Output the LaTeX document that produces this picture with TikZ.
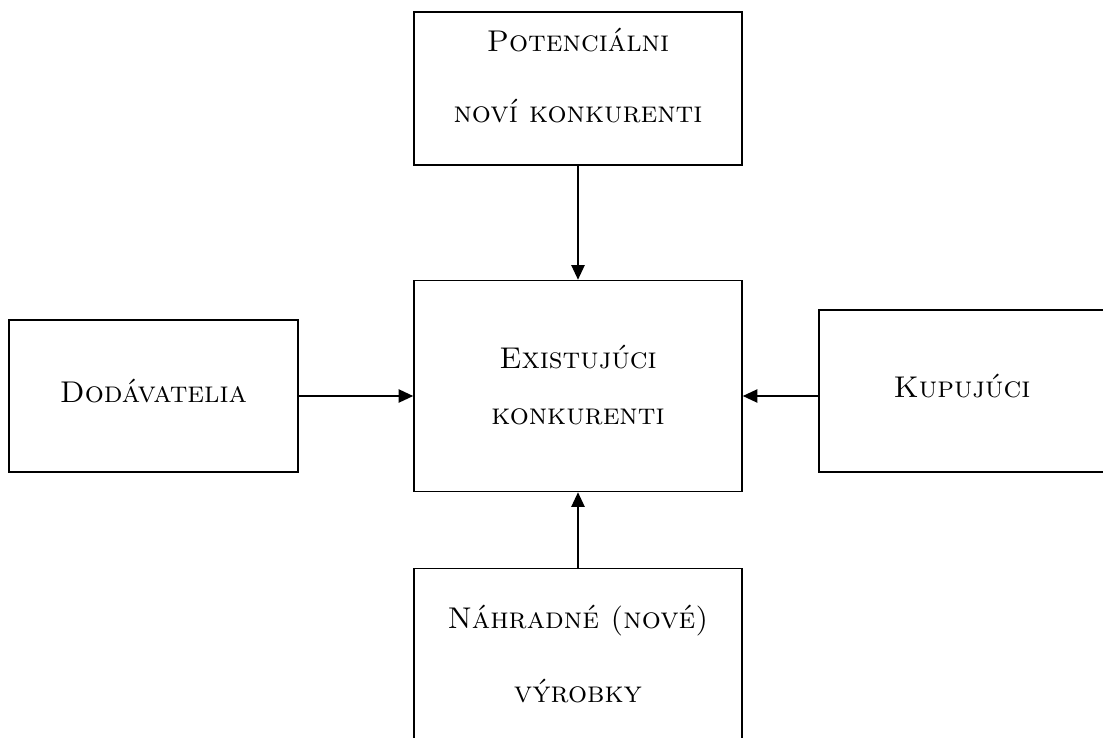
\documentclass[tikz,border=0pt]{standalone}
\usepackage{fontspec}
\usetikzlibrary{arrows.meta}
\tikzset{
  box/.style={draw, line width=1.2pt, inner sep=0pt},
  lbl/.style={align=center, inner sep=0pt, font=\fontsize{22.5}{42}\selectfont\scshape},
  flow/.style={line width=1.2pt, -{Triangle[length=11pt,width=10pt]}},
}
\begin{document}
\begin{tikzpicture}[x=0.75pt, y=-0.75pt]
  \useasboundingbox (0,0) rectangle (1103,738);
  \clip (0,0) rectangle (1103,738);

  % central box and its four neighbours
  \node[box, minimum width=246pt, minimum height=158.25pt] (ctr) at (578,386) {};
  \node[box, minimum width=246pt, minimum height=114.75pt] (top) at (578,88.5) {};
  \node[box, minimum width=216.75pt, minimum height=114pt] (lft) at (153.5,396) {};
  \node[box, minimum width=300pt, minimum height=121.5pt] (rt) at (1019,391) {};
  \node[box, minimum width=246pt, minimum height=140pt] (bot) at (578,662) {};

  % box captions
  \node[lbl, font=\fontsize{22.5}{42}\selectfont\scshape, yshift=1pt] (ctrT) at (ctr)
        {Existujúci\\konkurenti};
  \node[lbl, font=\fontsize{22.5}{53}\selectfont\scshape, yshift=9.5pt] (topT) at (top)
        {Potenciálni\\noví konkurenti};
  \node[lbl, yshift=3.5pt] (lftT) at (lft) {Dodávatelia};
  \node[lbl, yshift=3.5pt] (rtT) at (962,391) {Kupujúci};
  \node[lbl, font=\fontsize{22.5}{55}\selectfont\scshape, yshift=6pt] (botT) at (bot)
        {Náhradné (nové)\\výrobky};

  % forces acting on the existing competitors
  \draw[flow] (top) -- (ctr);
  \draw[flow] (bot) -- (ctr);
  \draw[flow] (lft) -- (lft -| ctr.west);
  \draw[flow] (rt.west |- lft) -- (ctr.east |- lft);
\end{tikzpicture}
\end{document}
